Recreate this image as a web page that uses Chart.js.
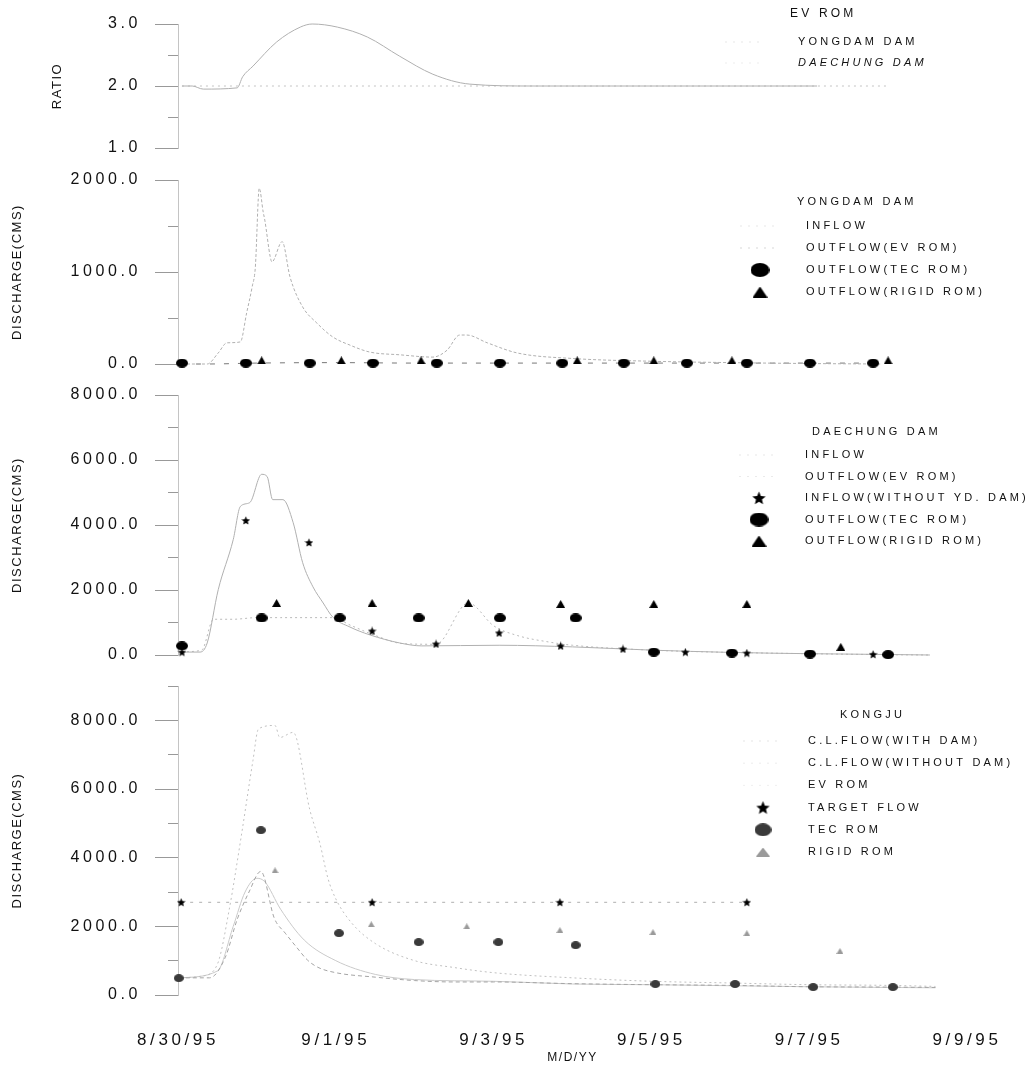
<!DOCTYPE html>
<html>
<head>
<meta charset="utf-8">
<script src="https://cdn.jsdelivr.net/npm/chart.js@4.4.1/dist/chart.umd.min.js"></script>
<style>
  html, body { margin: 0; padding: 0; background: #fff; }
  #page { position: relative; width: 1032px; height: 1068px; overflow: hidden; }
  #page canvas { position: absolute; left: 0; }
</style>
</head>
<body>
<div id="page">
  <canvas id="ratio" width="1032" height="165" style="top:0px"></canvas>
  <canvas id="yongdam" width="1032" height="210" style="top:165px"></canvas>
  <canvas id="daechung" width="1032" height="295" style="top:375px"></canvas>
  <canvas id="kongju" width="1032" height="398" style="top:670px"></canvas>
</div>
<script>
/* x values are days counted from 8/30/95 00:00 */
var xTickLabels = ['8/30/95', '9/1/95', '9/3/95', '9/5/95', '9/7/95', '9/9/95'];

/* ── panel 1 : EV ROM ratio ── */
var ratioYdDay = [0.05, 0.18, 0.32, 0.75, 0.82, 0.95, 1.25, 1.55, 1.70, 2.02, 2.40, 2.81, 3.23, 3.70, 4.5, 5.5, 6.5, 7.5, 8.1];
var ratioYd    = [2.0, 2.0, 1.95, 1.97, 2.15, 2.32, 2.71, 2.95, 3.0, 2.95, 2.79, 2.48, 2.19, 2.03, 2.0, 2.0, 2.0, 2.0, 2.0];
var ratioDcDay = [0.05, 9.0];
var ratioDc    = [2.0, 2.0];

/* ── panel 2 : Yongdam dam ── */
var ydInflowDay = [0.05, 0.37, 0.51, 0.62, 0.79, 0.87, 0.94, 0.98, 1.03, 1.08, 1.10, 1.17, 1.19, 1.32, 1.42, 1.58, 1.76, 1.96, 2.18, 2.43, 2.81, 3.23, 3.41, 3.57, 3.66, 3.92, 4.3, 5.0, 6.0, 7.0, 8.0, 8.9];
var ydInflow    = [0, 0, 120, 230, 240, 555, 840, 1050, 1910, 1650, 1565, 1160, 1110, 1330, 945, 620, 445, 295, 205, 130, 100, 75, 150, 315, 315, 230, 120, 60, 30, 15, 5, 0];
var ydOutEvDay  = [0.05, 0.37, 1.0, 2.0, 3.0, 4.0, 5.0, 6.0, 7.0, 8.0, 8.9];
var ydOutEv     = [0, 0, 10, 15, 10, 10, 10, 10, 10, 10, 10];
var ydTecDay    = [0.05, 0.86, 1.67, 2.47, 3.28, 4.08, 4.87, 5.65, 6.45, 7.21, 8.01, 8.81];
var ydTec       = [10, 10, 10, 10, 10, 10, 10, 10, 10, 10, 10, 10];
var ydRigidDay  = [1.06, 2.07, 3.08, 5.06, 6.03, 7.02, 9.0];
var ydRigid     = [40, 40, 40, 40, 40, 40, 40];

/* ── panel 3 : Daechung dam ── */
var dcInflowDay = [0.05, 0.28, 0.37, 0.51, 0.70, 0.79, 0.91, 1.06, 1.13, 1.20, 1.33, 1.46, 1.58, 1.71, 1.84, 1.96, 2.18, 2.43, 2.81, 3.09, 4.07, 5.0, 6.0, 7.0, 8.0, 9.0, 9.53];
var dcInflow    = [90, 90, 370, 2010, 3550, 4570, 4690, 5560, 5490, 4780, 4780, 4070, 2840, 2100, 1600, 1170, 860, 620, 370, 280, 300, 250, 150, 80, 40, 15, 0];
var dcOutEvDay  = [0.05, 0.3, 0.45, 0.7, 1.0, 1.3, 1.6, 1.95, 2.2, 2.5, 2.85, 3.27, 3.68, 4.0, 4.3, 4.7, 5.0, 6.0, 7.0, 8.0, 9.0, 9.53];
var dcOutEv     = [100, 150, 1100, 1100, 1150, 1150, 1150, 1150, 900, 600, 350, 330, 1600, 900, 600, 400, 300, 150, 80, 40, 10, 0];
var dcNoYdDay   = [0.05, 0.86, 1.66, 2.46, 3.27, 4.07, 4.85, 5.64, 6.43, 7.21, 8.81];
var dcNoYd      = [90, 4140, 3460, 740, 340, 680, 280, 185, 90, 60, 20];
var dcTecDay    = [0.05, 1.06, 2.05, 3.05, 4.08, 5.04, 6.03, 7.02, 8.01, 9.0];
var dcTec       = [280, 1140, 1140, 1140, 1140, 1140, 90, 60, 30, 10];
var dcRigidDay  = [1.25, 2.46, 3.68, 4.85, 6.03, 7.21, 8.40];
var dcRigid     = [1600, 1600, 1600, 1570, 1570, 1570, 250];

/* ── panel 4 : Kongju ── */
var kjWithDay    = [0.01, 0.4, 0.6, 0.75, 0.9, 1.05, 1.22, 1.36, 1.5, 1.64, 1.77, 2.0, 2.5, 3.0, 3.5, 4.0, 5.0, 6.0, 7.0, 8.0, 9.0, 9.6];
var kjWith       = [500, 500, 1100, 2200, 3000, 3600, 2240, 1800, 1400, 1020, 810, 650, 520, 420, 380, 380, 330, 300, 280, 240, 230, 220];
var kjWithoutDay = [0.01, 0.3, 0.5, 0.65, 0.8, 0.95, 1.02, 1.23, 1.29, 1.46, 1.67, 1.80, 1.90, 2.0, 2.2, 2.5, 3.0, 3.5, 4.0, 5.0, 6.0, 7.0, 8.0, 9.0, 9.6];
var kjWithout    = [500, 550, 900, 2500, 4600, 6830, 7750, 7850, 7500, 7650, 5400, 4400, 3400, 2800, 2100, 1500, 1000, 800, 650, 500, 400, 350, 300, 280, 250];
var kjEvDay      = [0.01, 0.5, 0.7, 0.85, 1.0, 1.1, 1.3, 1.6, 2.0, 2.5, 3.0, 4.0, 5.0, 6.0, 7.0, 8.0, 9.0, 9.6];
var kjEv         = [500, 700, 2000, 3000, 3400, 3300, 2500, 1600, 1000, 600, 450, 400, 320, 300, 270, 240, 220, 210];
var kjTargetDay  = [0.04, 2.46, 4.84, 7.21];
var kjTarget     = [2700, 2700, 2700, 2700];
var kjTecDay     = [0.01, 1.05, 2.04, 3.05, 4.06, 5.04, 6.05, 7.06, 8.05, 9.06];
var kjTec        = [490, 4800, 1800, 1540, 1540, 1450, 320, 320, 230, 230];
var kjRigidDay   = [1.23, 2.45, 3.66, 4.84, 6.02, 7.21, 8.39];
var kjRigid      = [3630, 2060, 2000, 1890, 1830, 1800, 1280];

var FONT = "'Liberation Sans', Arial, sans-serif";

function pts(days, vals) {
  return days.map(function (d, i) { return { x: d, y: vals[i] }; });
}

/* small canvas sprites used as point styles */
function makeMark(kind, w, h, color) {
  var c = document.createElement('canvas');
  c.width = w; c.height = h;
  var g = c.getContext('2d');
  g.fillStyle = color;
  g.beginPath();
  if (kind === 'ellipse') {
    g.ellipse(w / 2, h / 2, w / 2, h / 2, 0, 0, Math.PI * 2);
  } else if (kind === 'tri') {
    g.moveTo(w / 2, 0); g.lineTo(w, h); g.lineTo(0, h); g.closePath();
  } else {
    var R = Math.min(w, h) / 2, r = R * 0.45;
    for (var i = 0; i < 10; i++) {
      var a = -Math.PI / 2 + i * Math.PI / 5, rr = (i % 2) ? r : R;
      var px = w / 2 + rr * Math.cos(a), py = h / 2 + R * 0.08 + rr * Math.sin(a);
      if (i === 0) g.moveTo(px, py); else g.lineTo(px, py);
    }
    g.closePath();
  }
  g.fill();
  return c;
}

function lineSet(label, data, color, dash, extra) {
  var ds = {
    label: label, data: data, borderColor: color, borderWidth: 1, borderDash: dash,
    pointRadius: 0, fill: false, cubicInterpolationMode: 'monotone', clip: false, order: 1
  };
  return Object.assign(ds, extra || {});
}

function markSet(label, data, mark, legendMark, extra) {
  var ds = {
    label: label, data: data, showLine: false, pointStyle: mark, pointRadius: 4,
    legendMark: legendMark, clip: false, order: 0
  };
  return Object.assign(ds, extra || {});
}

/* axis titles get light tracking, tick labels (drawn after datasets) wide tracking */
var spacingPlugin = {
  id: 'spacing',
  beforeDraw: function (chart) { chart.ctx.letterSpacing = '1.5px'; },
  afterDatasetsDraw: function (chart) { chart.ctx.letterSpacing = '3.6px'; },
  afterDraw: function (chart) { chart.ctx.letterSpacing = '0px'; }
};

/* legend block drawn inside the plot, right side */
var damLegend = {
  id: 'damLegend',
  afterDraw: function (chart, args, o) {
    var ctx = chart.ctx;
    ctx.save();
    ctx.fillStyle = '#111';
    ctx.textBaseline = 'middle';
    ctx.textAlign = 'left';
    ctx.letterSpacing = o.spacing + 'px';
    ctx.font = o.titleFont;
    ctx.fillText(o.title, o.titleX, o.titleY);
    chart.data.datasets.forEach(function (ds, i) {
      var y = o.firstY + i * o.gap;
      if (ds.legendMark) {
        var m = ds.legendMark;
        ctx.drawImage(m, o.markX - m.width / 2, y - m.height / 2);
      } else {
        ctx.save();
        ctx.globalAlpha = 0.3;
        ctx.strokeStyle = ds.borderColor;
        ctx.lineWidth = 1;
        ctx.setLineDash([2, 6]);
        ctx.beginPath();
        ctx.moveTo(o.markX - 20, y);
        ctx.lineTo(o.markX + 20, y);
        ctx.stroke();
        ctx.restore();
      }
      ctx.font = (ds.legendItalic ? 'italic ' : '') + o.itemFont;
      ctx.fillText(ds.label, o.itemX, y);
    });
    ctx.restore();
  }
};

function panel(id, datasets, p) {
  var major = p.major;
  var isMajor = function (v) { return Math.abs(v / major - Math.round(v / major)) < 1e-6; };
  var showX = !!p.showX;
  return new Chart(document.getElementById(id), {
    type: 'line',
    data: { datasets: datasets },
    plugins: [spacingPlugin, damLegend],
    options: {
      responsive: false,
      animation: false,
      events: [],
      layout: { padding: p.padding },
      plugins: { legend: { display: false }, tooltip: { enabled: false }, damLegend: p.legend },
      scales: {
        x: {
          type: 'linear', min: 0, max: 10, display: showX,
          grid: { display: false },
          border: { display: false },
          ticks: {
            stepSize: 2, z: 1, padding: 27, maxRotation: 0, autoSkip: false,
            color: '#111', font: { family: FONT, size: 17 },
            callback: function (v) { return xTickLabels[Math.round(v / 2)]; }
          },
          title: {
            display: showX, text: 'M/D/YY', color: '#111',
            font: { family: FONT, size: 12 }, padding: { top: 0, bottom: 3 }
          },
          afterFit: function (s) { if (showX) s.height = 73; }
        },
        y: {
          type: 'linear', min: p.min, max: p.max,
          afterFit: function (s) { s.width = p.axisWidth; },
          border: { display: true, color: '#c4c4c4', width: 1, dash: [1, 3] },
          grid: {
            /* long tick box, only its inner part is stroked: keeps the label gap
               without the ticks.padding that would push the plot edges inward */
            drawOnChartArea: false, drawTicks: true, tickLength: 37,
            tickColor: '#999', tickWidth: 1,
            tickBorderDash: function (c) { return isMajor(c.tick.value) ? [0, 14, 23, 100] : [0, 27, 10, 100]; }
          },
          ticks: {
            stepSize: p.step, z: 1, padding: 0, autoSkip: false,
            color: '#111', font: { family: FONT, size: 16 },
            callback: function (v) { return isMajor(v) ? v.toFixed(1) : ''; }
          },
          title: {
            display: true, text: p.title, color: '#111',
            font: { family: FONT, size: 13 }, padding: 0
          }
        }
      }
    }
  });
}

/* marker sprites */
var circBig   = makeMark('ellipse', 12, 9, '#000');
var triBig    = makeMark('tri', 9, 8, '#000');
var starMid   = makeMark('star', 9, 9, '#000');
var circKj    = makeMark('ellipse', 10, 8, '#3a3a3a');
var triKj     = makeMark('tri', 7, 6, '#9a9a9a');
var starKj    = makeMark('star', 9, 9, '#000');
var legCirc   = makeMark('ellipse', 19, 14, '#000');
var legTri    = makeMark('tri', 15, 11, '#000');
var legStar   = makeMark('star', 15, 14, '#000');
var legCircKj = makeMark('ellipse', 17, 13, '#3a3a3a');
var legTriKj  = makeMark('tri', 14, 9, '#9a9a9a');

var legFont = { titleFont: '11px ' + FONT, itemFont: '11px ' + FONT, spacing: 3.2 };

panel('ratio', [
  lineSet('YONGDAM DAM', pts(ratioYdDay, ratioYd), '#b0b0b0', []),
  lineSet('DAECHUNG DAM', pts(ratioDcDay, ratioDc), '#c4c4c4', [2, 4], { legendItalic: true })
], {
  min: 1, max: 3, step: 0.5, major: 1, title: 'RATIO', axisWidth: 128,
  padding: { top: 24, bottom: 17, left: 50, right: 65 },
  legend: Object.assign({ title: 'EV ROM', titleX: 790, titleY: 14, itemX: 798, firstY: 42, gap: 21, markX: 745 },
    legFont, { titleFont: '12px ' + FONT })
});

panel('yongdam', [
  lineSet('INFLOW', pts(ydInflowDay, ydInflow), '#b0b0b0', [3, 2]),
  lineSet('OUTFLOW(EV ROM)', pts(ydOutEvDay, ydOutEv), '#777', [5, 9]),
  markSet('OUTFLOW(TEC ROM)', pts(ydTecDay, ydTec), circBig, legCirc),
  markSet('OUTFLOW(RIGID ROM)', pts(ydRigidDay, ydRigid), triBig, legTri)
], {
  min: 0, max: 2000, step: 500, major: 1000, title: 'DISCHARGE(CMS)', axisWidth: 168,
  padding: { top: 15, bottom: 11, left: 10, right: 65 },
  legend: Object.assign({ title: 'YONGDAM DAM', titleX: 797, titleY: 37, itemX: 806, firstY: 61, gap: 22, markX: 760 }, legFont)
});

panel('daechung', [
  lineSet('INFLOW', pts(dcInflowDay, dcInflow), '#b0b0b0', []),
  lineSet('OUTFLOW(EV ROM)', pts(dcOutEvDay, dcOutEv), '#bababa', [2, 3]),
  markSet('INFLOW(WITHOUT YD. DAM)', pts(dcNoYdDay, dcNoYd), starMid, legStar),
  markSet('OUTFLOW(TEC ROM)', pts(dcTecDay, dcTec), circBig, legCirc),
  markSet('OUTFLOW(RIGID ROM)', pts(dcRigidDay, dcRigid), triBig, legTri)
], {
  min: 0, max: 8000, step: 1000, major: 2000, title: 'DISCHARGE(CMS)', axisWidth: 168,
  padding: { top: 20, bottom: 15, left: 10, right: 65 },
  legend: Object.assign({ title: 'DAECHUNG DAM', titleX: 812, titleY: 57, itemX: 805, firstY: 80, gap: 21.5, markX: 759 }, legFont)
});

panel('kongju', [
  lineSet('C.L.FLOW(WITH DAM)', pts(kjWithDay, kjWith), '#a4a4a4', [4, 3]),
  lineSet('C.L.FLOW(WITHOUT DAM)', pts(kjWithoutDay, kjWithout), '#c0c0c0', [2, 3]),
  lineSet('EV ROM', pts(kjEvDay, kjEv), '#cacaca', []),
  markSet('TARGET FLOW', pts(kjTargetDay, kjTarget), starKj, legStar,
    { showLine: true, borderColor: '#b0b0b0', borderWidth: 1, borderDash: [3, 6] }),
  markSet('TEC ROM', pts(kjTecDay, kjTec), circKj, legCircKj),
  markSet('RIGID ROM', pts(kjRigidDay, kjRigid), triKj, legTriKj)
], {
  min: 0, max: 9000, step: 1000, major: 2000, title: 'DISCHARGE(CMS)', axisWidth: 168, showX: true,
  padding: { top: 16, bottom: 0, left: 10, right: 65 },
  legend: Object.assign({ title: 'KONGJU', titleX: 840, titleY: 45, itemX: 808, firstY: 71, gap: 22.2, markX: 763 }, legFont)
});
</script>
</body>
</html>
